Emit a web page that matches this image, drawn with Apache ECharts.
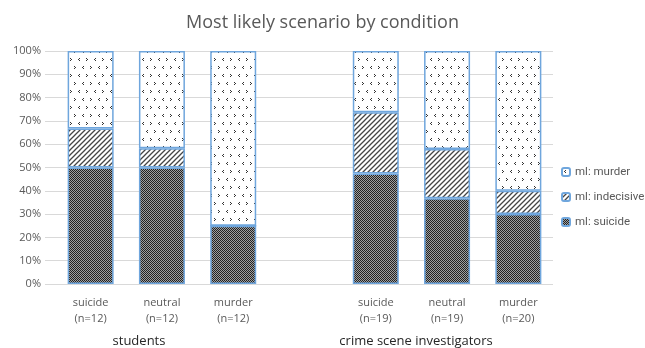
<!DOCTYPE html>
<html>
<head>
<meta charset="utf-8">
<script src="https://cdn.jsdelivr.net/npm/echarts@6/dist/echarts.min.js"></script>
<style>
  html, body { margin: 0; padding: 0; background: #fff; }
  #chart { width: 645px; height: 348px; }
</style>
</head>
<body>
<div id="chart"></div>
<script>
  // categories (blank slot separates the two groups)
  var categories = ['suicide\n(n=12)', 'neutral\n(n=12)', 'murder\n(n=12)', '',
                    'suicide\n(n=19)', 'neutral\n(n=19)', 'murder\n(n=20)'];
  var groupLabels = ['students', 'crime scene investigators'];
  var yTicks = [0, 10, 20, 30, 40, 50, 60, 70, 80, 90, 100];

  // percentages
  var mlSuicide    = [50.0, 50.0, 25.0, '-', 47.4, 36.8, 30.0];
  var mlIndecisive = [16.7,  8.3,  0.0, '-', 26.3, 21.1, 10.0];
  var mlMurder     = [33.3, 41.7, 75.0, '-', 26.3, 42.1, 60.0];

  var font = 'Open Sans';
  var grey = '#595959';

  function makePattern(w, h, draw) {
    var c = document.createElement('canvas');
    c.width = w; c.height = h;
    var ctx = c.getContext('2d');
    ctx.fillStyle = '#fff';
    ctx.fillRect(0, 0, w, h);
    draw(ctx);
    return { image: c, repeat: 'repeat' };
  }

  var checkFill = makePattern(2, 2, function (ctx) {
    ctx.fillStyle = '#a0a0a0';
    ctx.fillRect(0, 0, 2, 2);
    ctx.fillStyle = '#222';
    ctx.fillRect(0, 0, 1, 1);
    ctx.fillRect(1, 1, 1, 1);
  });

  var stripeFill = makePattern(5, 5, function (ctx) {
    ctx.strokeStyle = '#444';
    ctx.lineWidth = 1.3;
    ctx.beginPath();
    ctx.moveTo(-2.5, 2.5); ctx.lineTo(2.5, -2.5);
    ctx.moveTo(0, 5); ctx.lineTo(5, 0);
    ctx.moveTo(2.5, 7.5); ctx.lineTo(7.5, 2.5);
    ctx.stroke();
  });

  function chevron(ctx, x, y, left) {
    if (left) {
      ctx.fillRect(x + 1, y, 1, 1);
      ctx.fillRect(x, y + 1, 1, 1);
      ctx.fillRect(x + 1, y + 2, 1, 1);
    } else {
      ctx.fillRect(x, y, 1, 1);
      ctx.fillRect(x + 1, y + 1, 1, 1);
      ctx.fillRect(x, y + 2, 1, 1);
    }
  }

  var chevronFill = makePattern(16, 16, function (ctx) {
    ctx.fillStyle = '#333';
    chevron(ctx, 2, 2, true);
    chevron(ctx, 10, 2, false);
    chevron(ctx, 6, 10, false);
    chevron(ctx, 14, 10, true);
  });

  var border = { borderColor: '#6fa6dd', borderWidth: 1.5 };

  function barSeries(name, data, fill) {
    return {
      name: name,
      type: 'bar',
      stack: 'all',
      xAxisIndex: 1,
      yAxisIndex: 1,
      barWidth: 46,
      data: data,
      itemStyle: Object.assign({ color: fill }, border),
      emphasis: { disabled: true }
    };
  }

  var myChart = echarts.init(document.getElementById('chart'));
  myChart.setOption({
    animation: false,
    title: {
      text: 'Most likely scenario by condition',
      left: 'center',
      top: 9,
      textStyle: { fontFamily: font, fontSize: 18, fontWeight: 'normal', color: grey }
    },
    legend: {
      orient: 'vertical',
      left: 561,
      top: 165,
      padding: 0,
      itemWidth: 8,
      itemHeight: 8,
      itemGap: 11,
      data: ['ml: murder', 'ml: indecisive', 'ml: suicide'],
      textStyle: { fontFamily: 'Roboto', fontSize: 11.5, lineHeight: 14, color: grey }
    },
    grid: [
      { left: 45, right: 92, top: 51, bottom: 64 },
      { left: 55, right: 91, top: 51, bottom: 64 }
    ],
    xAxis: [
      { type: 'category', gridIndex: 0, data: [''], show: false },
      {
        type: 'category',
        gridIndex: 1,
        data: categories,
        axisLine: { show: false },
        axisTick: { show: false },
        axisLabel: {
          interval: 0,
          margin: 11,
          fontFamily: font,
          fontSize: 11,
          lineHeight: 16,
          color: grey
        }
      }
    ],
    yAxis: [
      {
        type: 'value',
        gridIndex: 0,
        min: yTicks[0],
        max: yTicks[yTicks.length - 1],
        interval: 10,
        axisLine: { show: false },
        axisTick: { show: false },
        axisLabel: { formatter: '{value}%', fontFamily: font, fontSize: 11, color: grey, margin: 4 },
        splitLine: { lineStyle: { color: '#d9d9d9' } }
      },
      {
        type: 'value',
        gridIndex: 1,
        min: 0,
        max: 100,
        interval: 10,
        show: false,
        splitLine: { show: false }
      }
    ],
    graphic: [
      {
        type: 'text', x: 139, y: 341,
        style: { text: groupLabels[0], align: 'center', verticalAlign: 'middle',
                 font: '13px "' + font + '"', fill: '#262626' }
      },
      {
        type: 'text', x: 416, y: 341,
        style: { text: groupLabels[1], align: 'center', verticalAlign: 'middle',
                 font: '13px "' + font + '"', fill: '#262626' }
      }
    ],
    series: [
      barSeries('ml: suicide', mlSuicide, checkFill),
      barSeries('ml: indecisive', mlIndecisive, stripeFill),
      barSeries('ml: murder', mlMurder, chevronFill)
    ]
  });
</script>
</body>
</html>
